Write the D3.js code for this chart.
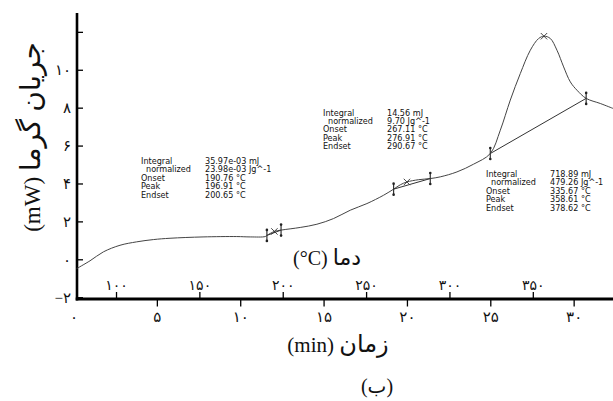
<!DOCTYPE html>
<html>
<head>
<meta charset="utf-8">
<script src="https://cdn.jsdelivr.net/npm/d3@7"></script>
<style>
body{margin:0;background:#fff}
text{fill:#111}
</style>
</head>
<body>
<div id="chart"></div>
<script>
// DSC trace: heat flow (mW) against time (min), temperature on a second scale
const timeMin = [0.19, 0.99, 1.79, 2.79, 3.79, 4.79, 5.79, 7.77, 9.79, 10.6, 11.5, 11.6, 12.05, 12.45,
  13.6, 14.6, 15.6, 16.6, 17.6, 18.6, 19.2, 19.6, 20.0, 20.7, 21.4, 22.0, 23.0, 24.0, 25.0,
  25.6, 26.2, 26.8, 27.4, 27.9, 28.22, 28.6, 29.0, 29.4, 29.8, 30.2, 30.75, 31.6, 32.36];
const heatFlow = [-0.49, -0.08, 0.39, 0.74, 0.92, 1.04, 1.11, 1.18, 1.2, 1.18, 1.2, 1.26, 1.47, 1.54,
  1.68, 1.85, 2.15, 2.59, 2.94, 3.38, 3.70, 3.93, 4.08, 4.2, 4.26, 4.35, 4.61, 5.02, 5.58,
  6.81, 8.4, 9.8, 11.03, 11.65, 11.77, 11.65, 11.03, 10.15, 9.36, 8.92, 8.49, 8.22, 7.96];

// integration limits (pairs) and peak points
const limitTime = [11.6, 12.45, 19.2, 21.4, 25.0, 30.75];
const limitFlow = [1.26, 1.54, 3.70, 4.26, 5.58, 8.49];
const peakTime = [12.05, 20.0, 28.22];
const peakFlow = [1.47, 4.08, 11.77];

const minTicks = [0, 5, 10, 15, 20, 25, 30];
const tempTicks = [100, 150, 200, 250, 300, 350];
const flowTicks = [-2, 0, 2, 4, 6, 8, 10, 12];
const flowLabeled = [-2, 0, 2, 4, 6, 8, 10];

const boxLabels = ["Integral", "normalized", "Onset", "Peak", "Endset"];
const boxValues = [
  ["35.97e-03 mJ", "23.98e-03 Jg^-1", "190.76 °C", "196.91 °C", "200.65 °C"],
  ["14.56 mJ", "9.70 Jg^-1", "267.11 °C", "276.91 °C", "290.67 °C"],
  ["718.89 mJ", "479.26 Jg^-1", "335.67 °C", "358.61 °C", "378.62 °C"]
];

const width = 613, height = 401;
const fa = s => String(s).replace(/\d/g, d => "۰۱۲۳۴۵۶۷۸۹"[d]).replace("-", "−");

const svg = d3.select("#chart").append("svg")
  .attr("width", width).attr("height", height);

const x = d3.scaleLinear().domain([0, 32.36]).range([73.5, 613]);
const temp = d3.scaleLinear().domain([74.5, 74.5 + 323.6]).range([73.5, 613]);
const y = d3.scaleLinear().domain([-2, 13]).range([297.2, 12.9]);
const axisX = 77;
const axisY = 299;

const serif = "'Liberation Serif','DejaVu Sans',serif";

// y axis
const gy = svg.append("g").attr("transform", `translate(${axisX},0)`)
  .call(d3.axisLeft(y).tickValues(flowTicks).tickSize(-6).tickSizeOuter(0).tickPadding(6)
    .tickFormat(d => flowLabeled.includes(d) ? fa(d) : ""));
gy.select(".domain").attr("d", `M0,${axisY + 1.5}V${y.range()[1]}`).attr("stroke-width", 2.6);
gy.selectAll(".tick line").attr("stroke-width", 1.3);
gy.selectAll("text").attr("font-family", serif).attr("font-size", 15);

// bottom axis, minutes
const gx = svg.append("g").attr("transform", `translate(0,${axisY})`)
  .call(d3.axisBottom(x).tickValues(minTicks).tickSize(7.5).tickSizeOuter(0).tickPadding(5).tickFormat(fa));
gx.select(".domain").attr("d", `M${axisX - 1.3},0H${x.range()[1]}`).attr("stroke-width", 3);
gx.selectAll(".tick").filter(d => d === 0).select("line").remove();
gx.selectAll(".tick line").attr("stroke-width", 1.3);
gx.selectAll("text").attr("font-family", serif).attr("font-size", 15);

// top-facing axis, temperature
const gt = svg.append("g").attr("transform", `translate(0,${axisY})`)
  .call(d3.axisTop(temp).tickValues(tempTicks).tickSize(7).tickPadding(2.5).tickFormat(fa));
gt.select(".domain").remove();
gt.selectAll(".tick line").attr("stroke-width", 1.3);
gt.selectAll("text").attr("font-family", serif).attr("font-size", 14);

// titles (latin part and persian part sized separately)
function title(px, py, latin, persian, s1, s2) {
  const t = svg.append("text").attr("x", px).attr("y", py).attr("text-anchor", "middle")
    .attr("font-family", serif).attr("font-size", s1);
  t.append("tspan").text(latin);
  t.append("tspan").attr("font-size", s2).text(persian);
  return t;
}
title(327, 265, "(°C) ", "دما", 20, 22);
title(338, 352, "(min) ", "زمان", 21, 24);
svg.append("text").attr("x", 377).attr("y", 393).attr("text-anchor", "middle")
  .attr("font-family", serif).attr("font-size", 20).text("(ب)");
title(0, 0, "(mW) ", "جریان گرما", 23, 28).attr("transform", "translate(40,137) rotate(-90)");

// curve
const pts = timeMin.map((t, i) => [t, heatFlow[i]]);
const line = d3.line().x(d => x(d[0])).y(d => y(d[1])).curve(d3.curveCatmullRom.alpha(0.5));
svg.append("path").datum(pts).attr("d", line)
  .attr("fill", "none").attr("stroke", "#444").attr("stroke-width", 1);

// baselines between integration limits
const plot = svg.append("g").attr("stroke", "#333").attr("fill", "none");
for (let k = 0; k < limitTime.length; k += 2) {
  plot.append("line")
    .attr("x1", x(limitTime[k])).attr("y1", y(limitFlow[k]))
    .attr("x2", x(limitTime[k + 1])).attr("y2", y(limitFlow[k + 1]))
    .attr("stroke-width", 1);
}

// limit markers
limitTime.forEach((t, i) => {
  const cx = x(t), cy = y(limitFlow[i]);
  plot.append("line").attr("x1", cx).attr("x2", cx).attr("y1", cy - 6).attr("y2", cy + 6)
    .attr("stroke-width", 1.2);
  [cy - 5.5, cy + 5.5].forEach(v => svg.append("circle").attr("cx", cx).attr("cy", v)
    .attr("r", 1.3).attr("fill", "#222"));
});

// peak crosses
peakTime.forEach((t, i) => {
  const cx = x(t), cy = y(peakFlow[i]), s = 3.2;
  plot.append("path").attr("d", `M${cx - s},${cy - s}L${cx + s},${cy + s}M${cx - s},${cy + s}L${cx + s},${cy - s}`)
    .attr("stroke-width", 0.9);
});

// result boxes, one text block per column
const boxPos = [[141, 205, 164], [323, 387, 115.5], [486, 550, 177]];
boxPos.forEach((p, b) => {
  const g = svg.append("g").attr("font-family", "'DejaVu Sans',sans-serif").attr("font-size", 8.1);
  const lt = g.append("text").attr("y", p[2]);
  boxLabels.forEach((lab, r) => {
    lt.append("tspan").attr("x", p[0] + (r === 1 ? 5 : 0)).attr("dy", r ? 8.4 : 0).text(lab);
  });
  const vt = g.append("text").attr("y", p[2]);
  boxValues[b].forEach((v, r) => {
    vt.append("tspan").attr("x", p[1]).attr("dy", r ? 8.4 : 0).text(v);
  });
});
</script>
</body>
</html>
